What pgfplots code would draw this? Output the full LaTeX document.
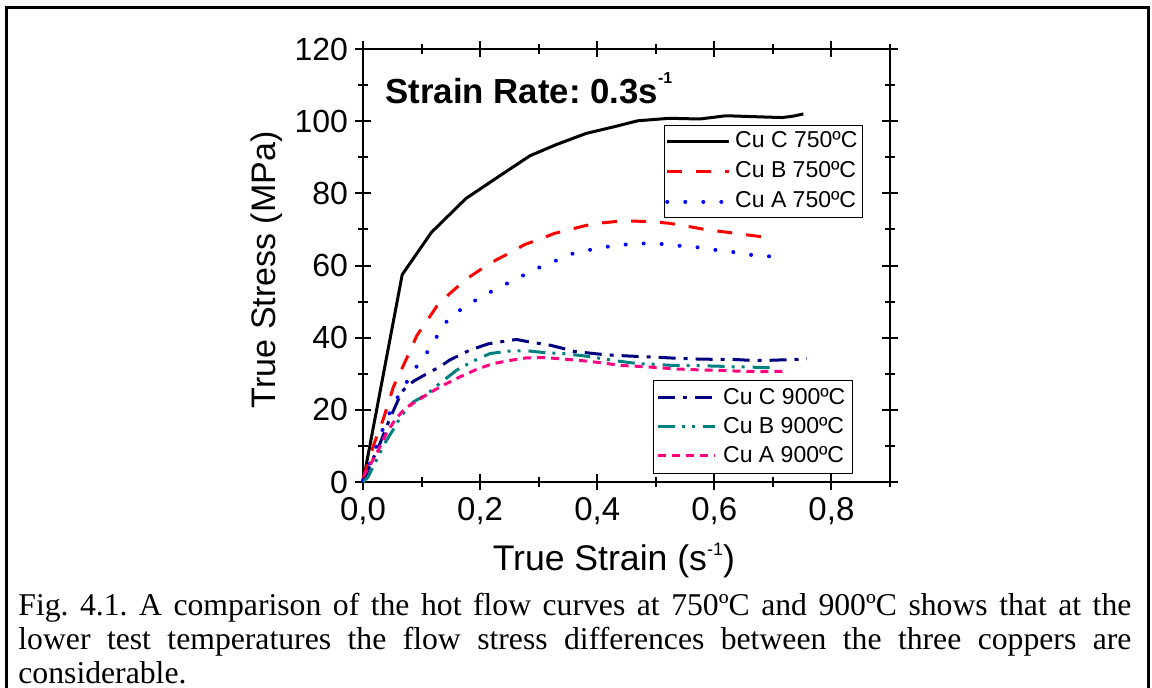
\documentclass[border=0pt]{standalone}
\usepackage{fontspec}
\setmainfont{Liberation Sans}
\newfontfamily\capfont{Liberation Serif}
\usepackage{pgfplots}
\pgfplotsset{compat=1.18}
\definecolor{navyc}{RGB}{0,0,128}
\definecolor{tealc}{RGB}{0,128,128}
\definecolor{pinkc}{RGB}{255,0,128}
\definecolor{redc}{RGB}{255,0,0}
\definecolor{bluec}{RGB}{0,0,255}

\pgfplotsset{
  myaxis/.style={
    scale only axis, width=263.5pt, height=216.5pt,
    xmin=0, xmax=0.9, ymin=0, ymax=120,
    at={(181.5pt,102.5pt)}, anchor=south west,
  },
  mylegend/.style={
    legend cell align=left,
    legend style={draw=black, line width=0.7pt, fill=white, inner sep=0.5pt,
      font=\fontsize{11.5}{11.5}\selectfont,
      nodes={inner sep=2pt, text height=8.5pt, text depth=2.5pt}},
  },
}

\begin{document}
\frenchspacing
\begin{tikzpicture}[x=0.5pt,y=0.5pt]
\path[use as bounding box] (0,0) rectangle (1152,687);
\draw[line width=1.5pt] (6.5,-30) rectangle (1148.5,679);

\begin{axis}[myaxis,
  axis line style={line width=1pt},
  every tick/.style={line width=1pt, black},
  major tick length=8pt, minor tick length=5pt, tick align=center,
  xtick={0,0.2,0.4,0.6,0.8}, minor xtick={0.1,0.3,0.5,0.7,0.9},
  ytick={0,20,...,120}, minor ytick={10,30,...,110},
  /pgf/number format/assume math mode=true,
  xticklabel style={font=\fontsize{16.5}{16.5}\selectfont, /pgf/number format/.cd, use comma, fixed, fixed zerofill, precision=1},
  yticklabel style={font=\fontsize{16}{16}\selectfont, /pgf/number format/.cd, fixed, precision=0},
  xlabel={True Strain (s\raisebox{7.8pt}{\fontsize{9}{9}\selectfont -1})},
  ylabel={True Stress (MPa)},
  xlabel style={at={(axis description cs:0.476,-0.205)}, anchor=base, font=\fontsize{17.8}{17.8}\selectfont},
  ylabel style={at={(axis description cs:-0.182,0.49)}, anchor=center, rotate=0, font=\fontsize{17}{17}\selectfont},
  mylegend,
  legend style={at={(axis description cs:0.949,0.8245)}, anchor=north east},
  legend image code/.code={\draw[#1] (0pt,0pt) -- (31pt,0pt);},
  clip=false,
]
\addplot[black, line width=1.5pt, line join=round] coordinates {
(0,0) (0.067,57.5) (0.117,69.2) (0.176,78.6) (0.234,84.9) (0.285,90.4) (0.33,93.5)
(0.381,96.6) (0.43,98.5) (0.469,100.1) (0.523,100.8) (0.575,100.6) (0.62,101.5)
(0.677,101.2) (0.716,101.0) (0.735,101.4) (0.752,102.0)};
\addlegendentry{Cu C 750ºC}
\addplot[redc, line width=1.5pt, dash pattern=on 7.5pt off 7pt] coordinates {
(0,1) (0.018,10.2) (0.035,17.6) (0.052,26.4) (0.077,35.1) (0.092,40.6) (0.126,48.7)
(0.148,52.2) (0.177,56.3) (0.2,58.8) (0.228,61.6) (0.251,63.5) (0.276,65.8) (0.302,67.3)
(0.327,68.9) (0.354,70.0) (0.381,71.1) (0.407,71.8) (0.433,72.2) (0.46,72.3) (0.489,72.2)
(0.523,71.7) (0.55,71.0) (0.58,70.1) (0.608,69.5) (0.637,68.9) (0.665,68.3) (0.694,67.7)};
\addlegendentry{Cu B 750ºC}
\addplot[bluec, line width=2pt, line cap=round, dash pattern=on 0.01pt off 9pt] coordinates {
(0,0.5) (0.003,2.4) (0.017,6.8) (0.026,11.6) (0.037,15.8) (0.05,21) (0.068,25.9)
(0.087,31) (0.109,35.8) (0.128,40.8) (0.147,45.5) (0.176,48.8) (0.206,51.7) (0.236,54.2)
(0.267,56.7) (0.296,59.1) (0.326,61.1) (0.353,63.1) (0.386,64.3) (0.417,65.2) (0.447,65.8)
(0.478,66.1) (0.508,66.0) (0.538,65.5) (0.568,65.1) (0.598,64.4) (0.629,63.8) (0.659,63.0)
(0.688,62.6) (0.718,62.3)};
\addlegendentry{Cu A 750ºC}
\node[anchor=base west, inner sep=0, font=\bfseries\fontsize{17.4}{17.4}\selectfont]
  at (axis description cs:0.0417,0.8746)
  {Strain Rate: 0.3s\raisebox{10pt}{\fontsize{8}{8}\selectfont -1}};
\end{axis}

\begin{axis}[myaxis, hide axis,
  mylegend,
  legend style={at={(axis description cs:0.930,0.0185)}, anchor=south east, inner sep=1.5pt,
    nodes={inner sep=2pt, text height=8.5pt, text depth=2pt}},
  legend image code/.code={\draw[#1] (0pt,0pt) -- (28.5pt,0pt); \path (30pt,0pt);},
]
\addplot[navyc, line width=1.5pt, dash pattern=on 8.5pt off 4pt on 2pt off 4pt] coordinates {
(0,0) (0.006,2.4) (0.029,10.7) (0.046,17.6) (0.06,22.7) (0.069,25.5) (0.086,27.9)
(0.111,30.2) (0.131,31.9) (0.148,33.8) (0.182,36.5) (0.214,38.3) (0.245,39.1) (0.262,39.5)
(0.285,38.8) (0.32,37.9) (0.347,36.8) (0.36,36.2) (0.406,35.4) (0.43,35.1) (0.469,34.8)
(0.5,34.6) (0.534,34.3) (0.566,34.1) (0.598,34.0) (0.63,34.0) (0.663,33.7) (0.69,33.7)
(0.726,33.9) (0.758,34.1)};
\addlegendentry{Cu C 900ºC}
\addplot[tealc, line width=1.5pt, dash pattern=on 8.5pt off 3.5pt on 1.5pt off 3.5pt on 1.5pt off 4pt] coordinates {
(0,0) (0.009,1.5) (0.023,6.1) (0.037,10.7) (0.052,14.6) (0.066,18.5) (0.086,22.2)
(0.109,24.3) (0.131,27.3) (0.16,31.0) (0.188,33.5) (0.217,35.6) (0.25,36.3) (0.279,36.4)
(0.313,35.8) (0.342,35.6) (0.375,35.0) (0.396,34.5) (0.427,33.7) (0.455,33.1) (0.472,32.8)
(0.5,32.6) (0.529,32.3) (0.55,32.3) (0.58,32.2) (0.607,32.1) (0.626,31.9) (0.655,31.9)
(0.683,31.7) (0.705,31.7)};
\addlegendentry{Cu B 900ºC}
\addplot[pinkc, line width=1.5pt, dash pattern=on 4pt off 3pt] coordinates {
(0,1.5) (0.012,4.7) (0.026,8.8) (0.04,13.5) (0.055,17.3) (0.072,20.4) (0.094,22.7)
(0.117,25.0) (0.137,26.8) (0.165,29.1) (0.194,31.2) (0.222,32.8) (0.251,33.7) (0.279,34.4)
(0.307,34.5) (0.333,34.2) (0.37,33.7) (0.393,33.3) (0.418,32.8) (0.441,32.3) (0.464,32.1)
(0.486,31.9) (0.512,31.6) (0.535,31.3) (0.558,31.2) (0.58,31.0) (0.603,31.0) (0.626,30.8)
(0.648,30.7) (0.671,30.6) (0.694,30.6) (0.72,30.7)};
\addlegendentry{Cu A 900ºC}
\end{axis}

\begin{scope}[font=\capfont\fontsize{15.85}{17}\selectfont]
\node[anchor=base west, inner sep=0] at (18,72) {\frenchspacing\makebox[556.5pt][s]{Fig. 4.1. A comparison of the hot flow curves at 750ºC and 900ºC shows that at the}};
\node[anchor=base west, inner sep=0] at (18,38) {\makebox[556.5pt][s]{lower test temperatures the flow stress differences between the three coppers are}};
\node[anchor=base west, inner sep=0] at (18,4) {considerable.};
\end{scope}
\end{tikzpicture}
\end{document}
